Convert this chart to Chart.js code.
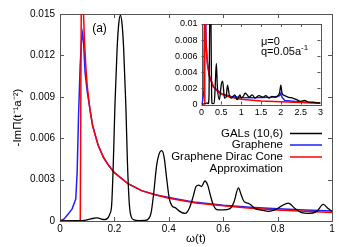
<!DOCTYPE html>
<html>
<head>
<meta charset="utf-8">
<script src="https://cdn.jsdelivr.net/npm/chart.js@4.4.1/dist/chart.umd.min.js"></script>
<style>
  html, body { margin: 0; padding: 0; background: #fff; }
  #wrap { position: relative; width: 353px; height: 247px; }
  #mainChart { position: absolute; left: 0; top: 0; }
  #insetChart { position: absolute; left: 165px; top: 10px; }
</style>
</head>
<body>
<div id="wrap">
  <canvas id="mainChart" width="353" height="247"></canvas>
  <canvas id="insetChart" width="165" height="110"></canvas>
</div>
<script>
// main panel, omega in units of t
const galX = [0, 0.06, 0.09, 0.11, 0.125, 0.137, 0.15, 0.163, 0.175, 0.183, 0.19, 0.196, 0.202, 0.21, 0.216, 0.222, 0.228, 0.234, 0.242, 0.248, 0.255, 0.262, 0.272, 0.29, 0.31, 0.322, 0.335, 0.345, 0.355, 0.365, 0.374, 0.383, 0.392, 0.402, 0.412, 0.425, 0.44, 0.46, 0.475, 0.49, 0.5, 0.51, 0.52, 0.533, 0.543, 0.555, 0.565, 0.58, 0.6, 0.625, 0.64, 0.656, 0.666, 0.677, 0.69, 0.7, 0.717, 0.735, 0.766, 0.79, 0.815, 0.839, 0.864, 0.888, 0.913, 0.944, 0.968, 0.986, 1.0];
const galY = [0, 0.00002, 0.00005, 0.00014, 0.0002, 0.00023, 0.00015, 0.0001, 0.0002, 0.0005, 0.0012, 0.0042, 0.0084, 0.0125, 0.0143, 0.0149, 0.0143, 0.0125, 0.0084, 0.0042, 0.0012, 0.0003, 0.00008, 0.00003, 0.00004, 0.0001, 0.0006, 0.0021, 0.0040, 0.0049, 0.0051, 0.0046, 0.0031, 0.0016, 0.0011, 0.00095, 0.0007, 0.00055, 0.0009, 0.0018, 0.0025, 0.0026, 0.0025, 0.0029, 0.0026, 0.0017, 0.0011, 0.0008, 0.0008, 0.0009, 0.0014, 0.0024, 0.0019, 0.0014, 0.0013, 0.0012, 0.0009, 0.0008, 0.0007, 0.0008, 0.0011, 0.0013, 0.0009, 0.0006, 0.00055, 0.0007, 0.0012, 0.0009, 0.0007];

const grapheneX = [0, 0.015, 0.03, 0.045, 0.058, 0.063, 0.068, 0.074, 0.079, 0.083, 0.087, 0.092, 0.1, 0.11, 0.12, 0.14, 0.16, 0.18, 0.2, 0.25, 0.3, 0.35, 0.4, 0.5, 0.6, 0.7, 0.8, 0.9, 1.0];
const grapheneY = [0, 0.00015, 0.0005, 0.0009, 0.0016, 0.0035, 0.0075, 0.0112, 0.0131, 0.0136, 0.0128, 0.0108, 0.0094, 0.0081, 0.0069, 0.0055, 0.0046, 0.004, 0.0035, 0.0027, 0.0022, 0.0019, 0.0017, 0.00135, 0.00114, 0.00099, 0.00088, 0.00079, 0.00072];

const diracX = [0, 0.0745, 0.08, 0.083, 0.087, 0.09, 0.095, 0.1, 0.11, 0.12, 0.14, 0.16, 0.18, 0.2, 0.25, 0.3, 0.35, 0.4, 0.5, 0.6, 0.7, 0.8, 0.9, 1.0];
const diracY = [0, 0, 0.0234, 0.0183, 0.0147, 0.0131, 0.0112, 0.0098, 0.0081, 0.0069, 0.0055, 0.0046, 0.004, 0.0035, 0.0027, 0.0022, 0.0019, 0.00165, 0.0013, 0.0011, 0.00093, 0.0008, 0.0007, 0.00062];

// inset, wider omega range
const insGalX = [0, 0.1, 0.14, 0.17, 0.19, 0.205, 0.222, 0.24, 0.255, 0.27, 0.32, 0.35, 0.374, 0.4, 0.45, 0.5, 0.533, 0.58, 0.62, 0.656, 0.7, 0.75, 0.84, 0.9, 0.97, 1.0, 1.05, 1.1, 1.15, 1.2, 1.28, 1.35, 1.45, 1.55, 1.62, 1.7, 1.78, 1.85, 1.93, 1.97, 2.0, 2.03, 2.1, 2.2, 2.3, 2.4, 2.5, 2.6, 2.7, 2.8, 2.9, 3.0];
const insGalY = [0, 0.0001, 0.0002, 0.0001, 0.0012, 0.0095, 0.0149, 0.0095, 0.0012, 0.0001, 0.0001, 0.0028, 0.0051, 0.0022, 0.0006, 0.0025, 0.0029, 0.0008, 0.0009, 0.0024, 0.0012, 0.0008, 0.0012, 0.0006, 0.0012, 0.0008, 0.001, 0.0014, 0.0012, 0.0009, 0.0012, 0.0008, 0.0011, 0.0009, 0.0011, 0.0008, 0.001, 0.0009, 0.0011, 0.0015, 0.0024, 0.0014, 0.0011, 0.0009, 0.0008, 0.0006, 0.0004, 0.0005, 0.0003, 0.0003, 0.0002, 0.0002];

const insGrapheneX = [0, 0.03, 0.057, 0.063, 0.074, 0.083, 0.092, 0.11, 0.15, 0.2, 0.3, 0.5, 0.75, 1.0, 1.25, 1.5, 1.75, 1.9, 1.97, 2.0, 2.03, 2.1, 2.3, 2.5, 2.75, 3.0];
const insGrapheneY = [0, 0.0005, 0.0016, 0.0035, 0.0112, 0.0136, 0.0108, 0.0081, 0.0051, 0.0035, 0.0022, 0.00135, 0.001, 0.00088, 0.00085, 0.00086, 0.0009, 0.00098, 0.0011, 0.0014, 0.0009, 0.0005, 0.0004, 0.0003, 0.00022, 0.00015];

const insDiracX = [0, 0.0745, 0.08, 0.087, 0.1, 0.12, 0.15, 0.2, 0.3, 0.4, 0.5, 0.7, 1.0, 1.5, 2.0, 2.5, 3.0];
const insDiracY = [0, 0, 0.0234, 0.0147, 0.0098, 0.0069, 0.005, 0.0035, 0.0022, 0.00165, 0.0013, 0.00093, 0.00065, 0.00044, 0.00033, 0.00026, 0.00022];

const legendLabels = ['GALs (10,6)', 'Graphene', 'Graphene Dirac Cone'];
const FONT = "'Liberation Sans', Arial, Helvetica, sans-serif";

const pts = (xs, ys) => xs.map((x, i) => ({ x: x, y: ys[i] }));
const fmt = v => String(+v.toFixed(3));

// box round the plot with inward ticks on all four sides
const frameTicks = {
    id: 'frameTicks',
    beforeDatasetsDraw(chart, args, opts) {
        const { ctx, chartArea: a, scales } = chart;
        const len = opts.len;
        ctx.save();
        ctx.strokeStyle = opts.color;
        ctx.lineWidth = 1;
        ctx.beginPath();
        scales.x.ticks.forEach(t => {
            const px = Math.round(scales.x.getPixelForValue(t.value)) + 0.5;
            ctx.moveTo(px, a.bottom); ctx.lineTo(px, a.bottom - len);
            ctx.moveTo(px, a.top); ctx.lineTo(px, a.top + len);
        });
        scales.y.ticks.forEach(t => {
            const py = Math.round(scales.y.getPixelForValue(t.value)) + 0.5;
            ctx.moveTo(a.left, py); ctx.lineTo(a.left + len, py);
            ctx.moveTo(a.right, py); ctx.lineTo(a.right - len, py);
        });
        ctx.stroke();
        ctx.strokeRect(Math.round(a.left) + 0.5, Math.round(a.top) + 0.5,
            Math.round(a.right - a.left), Math.round(a.bottom - a.top));
        ctx.restore();
    }
};

// gnuplot style key, text right aligned and sample line after it
const keyBox = {
    id: 'keyBox',
    afterDraw(chart) {
        const ctx = chart.ctx;
        const ds = chart.data.datasets;
        ctx.save();
        ctx.font = '11.5px ' + FONT;
        ctx.fillStyle = '#000';
        ctx.textAlign = 'right';
        ctx.textBaseline = 'middle';
        const rows = [133.5, 145, 157];
        legendLabels.forEach((lab, i) => {
            ctx.fillText(lab, 283, rows[i]);
            ctx.strokeStyle = ds[i].borderColor;
            ctx.lineWidth = 1.5;
            ctx.beginPath();
            ctx.moveTo(290, rows[i]);
            ctx.lineTo(322, rows[i]);
            ctx.stroke();
        });
        ctx.fillText('Approximation', 283, 169);
        ctx.textAlign = 'center';
        ctx.font = '12px ' + FONT;
        ctx.fillText('(a)', 99.5, 29);
        ctx.restore();
    }
};

const insetNote = {
    id: 'insetNote',
    afterDraw(chart) {
        const ctx = chart.ctx;
        ctx.save();
        ctx.fillStyle = '#000';
        ctx.textBaseline = 'middle';
        ctx.textAlign = 'left';
        ctx.font = '11px ' + FONT;
        ctx.fillText('\u03bc=0', 96, 32);
        ctx.fillText('q=0.05a', 96, 42);
        const w = ctx.measureText('q=0.05a').width;
        ctx.font = '8px ' + FONT;
        ctx.fillText('-1', 96 + w, 37.5);
        ctx.restore();
    }
};

const lineSet = (label, data, color, order, smooth, width) => ({
    label: label,
    data: data,
    borderColor: color,
    backgroundColor: color,
    borderWidth: width,
    pointRadius: 0,
    fill: false,
    order: order,
    tension: 0,
    cubicInterpolationMode: smooth ? 'monotone' : 'default'
});

new Chart(document.getElementById('mainChart'), {
    type: 'line',
    data: {
        datasets: [
            lineSet(legendLabels[0], pts(galX, galY), '#000000', 0, true, 1.3),
            lineSet(legendLabels[1], pts(grapheneX, grapheneY), '#1f1fff', 2, false, 1.5),
            lineSet(legendLabels[2], pts(diracX, diracY), '#ff0000', 1, false, 1.5)
        ]
    },
    options: {
        responsive: false,
        animation: false,
        layout: { padding: { top: 14, right: 21, left: 0, bottom: 0 } },
        plugins: { legend: { display: false }, tooltip: { enabled: false }, frameTicks: { len: 4, color: '#555' } },
        scales: {
            x: {
                type: 'linear', min: 0, max: 1,
                grid: { display: false, drawTicks: false },
                border: { display: false },
                ticks: { stepSize: 0.2, autoSkip: false, maxRotation: 0, padding: 2, color: '#000', font: { family: FONT, size: 10 }, callback: v => fmt(v) },
                title: { display: true, text: '\u03c9(t)', color: '#000', font: { family: FONT, size: 11.5 }, padding: { top: 0, bottom: 1 } },
                afterFit: s => { s.height = 26; }
            },
            y: {
                type: 'linear', min: 0, max: 0.015,
                grid: { display: false, drawTicks: false },
                border: { display: false },
                ticks: { stepSize: 0.003, autoSkip: false, padding: 5, color: '#000', font: { family: FONT, size: 10 }, callback: v => fmt(v) },
                title: { display: true, text: '-Im\u03a0(t\u207b\u00b9a\u207b\u00b2)', color: '#000', font: { family: FONT, size: 11.5 }, padding: { top: 11, bottom: 0 } },
                afterFit: s => { s.width = 60; }
            }
        }
    },
    plugins: [frameTicks, keyBox]
});

new Chart(document.getElementById('insetChart'), {
    type: 'line',
    data: {
        datasets: [
            lineSet(legendLabels[0], pts(insGalX, insGalY), '#000000', 0, true, 1.3),
            lineSet(legendLabels[1], pts(insGrapheneX, insGrapheneY), '#1f1fff', 2, false, 1.5),
            lineSet(legendLabels[2], pts(insDiracX, insDiracY), '#ff0000', 1, false, 1.5)
        ]
    },
    options: {
        responsive: false,
        animation: false,
        layout: { padding: { top: 14, right: 9.5, left: 0, bottom: 0 } },
        plugins: { legend: { display: false }, tooltip: { enabled: false }, frameTicks: { len: 3, color: '#555' } },
        scales: {
            x: {
                type: 'linear', min: 0, max: 3,
                grid: { display: false, drawTicks: false },
                border: { display: false },
                ticks: { stepSize: 0.5, autoSkip: false, maxRotation: 0, padding: 3, color: '#000', font: { family: FONT, size: 9 }, callback: v => fmt(v) },
                afterFit: s => { s.height = 15.5; }
            },
            y: {
                type: 'linear', min: 0, max: 0.01,
                grid: { display: false, drawTicks: false },
                border: { display: false },
                ticks: { stepSize: 0.002, autoSkip: false, padding: 4, color: '#000', font: { family: FONT, size: 9 }, callback: v => fmt(v) },
                afterFit: s => { s.width = 36.5; }
            }
        }
    },
    plugins: [frameTicks, insetNote]
});
</script>
</body>
</html>
